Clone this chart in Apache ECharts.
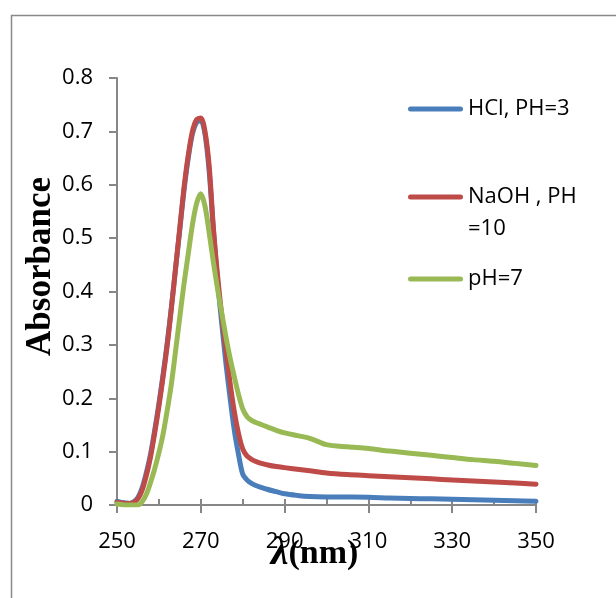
<!DOCTYPE html>
<html>
<head>
<meta charset="utf-8">
<script src="https://cdn.jsdelivr.net/npm/echarts@6/dist/echarts.min.js"></script>
<style>
html,body{margin:0;padding:0;background:#fff;}
#chart{width:616px;height:598px;}
</style>
</head>
<body>
<div id="chart"></div>
<script>
const wavelengths = [250,251,252,253,254,255,256,257,258,259,260,261,262,263,264,265,266,267,268,269,270,271,272,273,274,275,276,277,278,279,280,281,282,283,284,286,288,290,293,296,300,305,310,315,320,325,330,335,340,345,350];
const hcl = [0.007,0.005,0.004,0.003,0.006,0.014,0.032,0.06,0.095,0.14,0.19,0.245,0.305,0.372,0.445,0.517,0.59,0.65,0.695,0.717,0.72,0.695,0.625,0.515,0.42,0.34,0.265,0.2,0.14,0.095,0.058,0.047,0.041,0.037,0.034,0.029,0.025,0.021,0.018,0.016,0.015,0.0148,0.0145,0.013,0.012,0.0115,0.011,0.01,0.009,0.008,0.007];
const naoh = [0.005,0.004,0.003,0.003,0.005,0.012,0.028,0.055,0.09,0.135,0.185,0.24,0.3,0.37,0.445,0.52,0.595,0.655,0.7,0.722,0.725,0.7,0.635,0.52,0.43,0.355,0.29,0.228,0.175,0.134,0.105,0.092,0.086,0.082,0.079,0.075,0.072,0.07,0.067,0.064,0.06,0.057,0.055,0.053,0.051,0.049,0.047,0.045,0.043,0.041,0.039];
const ph7 = [0.002,0.001,0,0,0,0,0.006,0.02,0.042,0.068,0.098,0.133,0.178,0.228,0.29,0.353,0.415,0.47,0.525,0.565,0.583,0.56,0.51,0.455,0.405,0.36,0.315,0.275,0.24,0.207,0.18,0.166,0.159,0.155,0.152,0.146,0.14,0.135,0.13,0.125,0.113,0.109,0.106,0.101,0.097,0.093,0.089,0.085,0.082,0.078,0.074];
const seriesNames = ['HCl, PH=3', 'NaOH , PH\n=10', 'pH=7'];
const yTicks = ['0','0.1','0.2','0.3','0.4','0.5','0.6','0.7','0.8'];

const colors = ['#4A7EBB', '#BE4B48', '#98B954'];
const pair = arr => wavelengths.map((w, i) => [w, arr[i]]);
const FONT = '"Open Sans", sans-serif';
const lineIcon = 'path://M2.5,0 L52.5,0 A2.5,2.5 0 0 1 52.5,5 L2.5,5 A2.5,2.5 0 0 1 2.5,0 Z';

const chart = echarts.init(document.getElementById('chart'), null, {renderer: 'canvas'});
const legendBase = {
  orient: 'vertical', left: 408, padding: 0, itemWidth: 55, itemHeight: 5, itemGap: 0,
  icon: lineIcon, selectedMode: false,
  textStyle: {fontFamily: FONT, fontSize: 22, color: '#000', lineHeight: 26}
};
chart.setOption({
  animation: false,
  backgroundColor: '#fff',
  graphic: [{
    type: 'rect', left: 9, top: 13, shape: {width: 700, height: 700},
    style: {fill: 'none', stroke: '#898989', lineWidth: 1.5}, silent: true
  }],
  grid: {left: 117, top: 78, width: 419, height: 427},
  legend: [
    Object.assign({}, legendBase, {top: 96, data: [seriesNames[0]]}),
    Object.assign({}, legendBase, {top: 149, data: [seriesNames[1]],
      formatter: name => '\n' + name,
      textStyle: {fontFamily: FONT, fontSize: 22, color: '#000', lineHeight: 32}}),
    Object.assign({}, legendBase, {top: 266, data: [seriesNames[2]]})
  ],
  xAxis: [{
    type: 'value', min: 250, max: 350, interval: 20,
    name: '{l|λ}{n|(nm)}', nameLocation: 'middle', nameGap: 29, nameMoveOverlap: false,
    nameTextStyle: {padding: [0, 24, 0, 0], rich: {
      l: {fontFamily: '"Liberation Serif", serif', fontWeight: 'bold', fontStyle: 'italic', fontSize: 40, color: '#000'},
      n: {fontFamily: '"Liberation Serif", serif', fontWeight: 'bold', fontSize: 34, color: '#000'}
    }},
    axisLine: {lineStyle: {color: '#878787', width: 2}},
    axisTick: {show: true, length: 8, lineStyle: {color: '#878787', width: 2}},
    axisLabel: {fontFamily: FONT, fontSize: 22, color: '#000', margin: 26},
    splitLine: {show: false}
  }, {
    type: 'value', min: 250, max: 350, interval: 10, position: 'bottom',
    axisLine: {show: false},
    axisTick: {show: true, inside: true, length: 6, lineStyle: {color: '#878787', width: 2}},
    axisLabel: {show: false}, splitLine: {show: false}
  }],
  yAxis: {
    type: 'value', min: 0, max: 0.8, interval: 0.1,
    name: 'Absorbance', nameLocation: 'middle', nameGap: 59, nameRotate: 90, nameMoveOverlap: false,
    nameTextStyle: {fontFamily: '"Liberation Serif", serif', fontWeight: 'bold', fontSize: 35, color: '#000',
      padding: [0, 0, 0, 50]},
    axisLine: {show: true, lineStyle: {color: '#878787', width: 2}},
    axisTick: {show: true, length: 8, lineStyle: {color: '#878787', width: 2}},
    axisLabel: {fontFamily: FONT, fontSize: 22, color: '#000', margin: 24,
      formatter: v => yTicks[Math.round(v * 10)]},
    splitLine: {show: false}
  },
  series: [hcl, naoh, ph7].map((arr, i) => ({
    name: seriesNames[i], type: 'line', data: pair(arr), showSymbol: false,
    smooth: 0.3, color: colors[i],
    lineStyle: {width: 5, color: colors[i], cap: 'round', join: 'round'}
  }))
});
</script>
</body>
</html>
